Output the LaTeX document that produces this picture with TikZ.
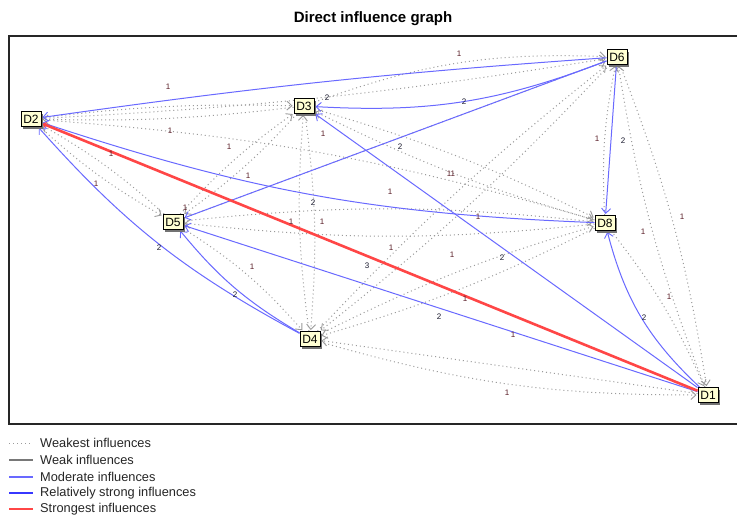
\documentclass[tikz,border=0pt]{standalone}
\usepackage{fontspec}
\setmainfont{Liberation Sans}
\usetikzlibrary{arrows.meta,shadows}
\definecolor{nodefill}{RGB}{255,255,212}
\definecolor{blueE}{RGB}{105,105,255}
\definecolor{strongB}{RGB}{55,55,255}
\definecolor{redE}{RGB}{255,70,70}
\definecolor{grayE}{RGB}{155,155,155}
\definecolor{grayW}{RGB}{120,120,120}
\definecolor{labone}{RGB}{90,30,40}
\definecolor{labtwo}{RGB}{25,25,45}
\begin{document}
\begin{tikzpicture}[x=1pt,y=-1pt,
  dn/.style={draw=black, line width=1pt, fill=nodefill, font=\fontsize{12}{12}\selectfont,
    inner sep=1pt, minimum width=20pt, minimum height=15pt,
    drop shadow={shadow xshift=2pt, shadow yshift=-2pt, fill=black!55, opacity=1}},
  weakest/.style={draw=grayE, line width=1pt, dash pattern=on 1pt off 3pt,
    -{Straight Barb[length=5pt,width=9pt,line width=0.9pt]}, shorten >=1pt},
  moder/.style={draw=blueE, line width=1pt,
    -{Straight Barb[length=5pt,width=9pt,line width=0.9pt]}, shorten >=1pt},
  strongest/.style={draw=redE, line width=2.6pt,
    -{Straight Barb[length=3pt,width=5pt,line width=1pt]}, shorten >=1pt},
  lbl/.style={font=\fontsize{8}{8}\selectfont, inner sep=0pt, text=labone},
  lbltwo/.style={font=\fontsize{8}{8}\selectfont, inner sep=0pt, text=labtwo},
  legtext/.style={font=\fontsize{12.8}{12.8}\selectfont, anchor=west, inner sep=0pt, text=black!85}
]
\useasboundingbox (0,0) rectangle (737,515);
\fill[white] (0,0) rectangle (737,515);
\node[font=\bfseries\fontsize{15}{15}\selectfont] (title) at (373,19) {Direct influence graph};
\draw[line width=1.3pt, black!85] (9,36) rectangle (738,424);

% nodes
\node[dn] (D2) at (31,119) {D2};
\node[dn] (D3) at (304,106) {D3};
\node[dn] (D6) at (617,57) {D6};
\node[dn] (D5) at (173,222) {D5};
\node[dn] (D8) at (605,223) {D8};
\node[dn] (D4) at (310,339) {D4};
\node[dn] (D1) at (708,395) {D1};

% weakest (dotted) influences
\draw[weakest] (D2) to[bend left=4] (D3);
\draw[weakest] (D3) to[bend left=4] (D2);
\draw[weakest] (D2) to[bend right=3] (D6);
\draw[weakest] (D2) to[bend left=6] (D8);
\draw[weakest] (D2) to[bend right=6] (D5);
\draw[weakest] (D5) to[bend right=6] (D2);
\draw[weakest] (D3) to[bend left=11] (D6);
\draw[weakest] (D3) to[bend left=5] (D8);
\draw[weakest] (D8) to[bend left=5] (D3);
\draw[weakest] (D3) to[bend left=6] (D5);
\draw[weakest] (D5) to[bend left=6] (D3);
\draw[weakest] (D3) to[bend left=6] (D4);
\draw[weakest] (D4) to[bend left=6] (D3);
\draw[weakest] (D5) to[bend left=6] (D8);
\draw[weakest] (D8) to[bend left=6] (D5);
\draw[weakest] (D5) -- (D6);
\draw[weakest] (D4) to[bend left=4] (D6);
\draw[weakest] (D6) to[bend left=4] (D4);
\draw[weakest] (D4) to[bend left=5] (D8);
\draw[weakest] (D8) to[bend left=5] (D4);
\draw[weakest] (D5) to[bend left=8] (D4);
\draw[weakest] (D8) to[bend left=7] (D6);
\draw[weakest] (D6) to[bend left=6] (D1);
\draw[weakest] (D1) to[bend left=6] (D6);
\draw[weakest] (D8) to[bend left=7] (D1);
\draw[weakest] (D1) -- (D4);
\draw[weakest] (D4) to[bend right=8] (D1);

% moderate influences
\draw[moder] (D6) to[bend right=2] (D2);
\draw[moder] (D6) to[bend left=12] (D3);
\draw[moder] (D6) -- (D5);
\draw[moder] (D8) to[bend left=8] (D2);
\draw[moder] (D1) -- (D3);
\draw[moder] (D1) -- (D5);
\draw[moder] (D1) to[bend left=16] (D8);
\draw[moder] (D6) -- (D8);
\draw[moder] (D4) to[bend left=10] (D5);
\draw[moder] (D4) to[bend left=10] (D2);

% strongest influence
\draw[strongest] (D1) -- (D2);

% redraw nodes on top
\node[dn] at (D2) {D2};
\node[dn] at (D3) {D3};
\node[dn] at (D6) {D6};
\node[dn] at (D5) {D5};
\node[dn] at (D8) {D8};
\node[dn] at (D4) {D4};
\node[dn] at (D1) {D1};

% edge labels
\node[lbl] (a1) at (168,87) {1};
\node[lbl] (a2) at (170,131) {1};
\node[lbl] (a3) at (229,147) {1};
\node[lbl] (a4) at (111,154) {1};
\node[lbl] (a5) at (96,184) {1};
\node[lbl] (a6) at (248,176) {1};
\node[lbl] (a7) at (185,208) {1};
\node[lbl] (a8) at (459,54) {1};
\node[lbltwo] (a9) at (327,98) {2};
\node[lbltwo] (a10) at (464,102) {2};
\node[lbl] (a11) at (323,134) {1};
\node[lbltwo] (a12) at (400,147) {2};
\node[lbl] (a13) at (451,174) {11};
\node[lbl] (a14) at (390,192) {1};
\node[lbltwo] (a15) at (313,203) {2};
\node[lbl] (a16) at (291,222) {1};
\node[lbl] (a17) at (322,222) {1};
\node[lbl] (a18) at (391,248) {1};
\node[lbltwo] (a19) at (367,266) {3};
\node[lbl] (a20) at (452,255) {1};
\node[lbl] (a21) at (465,299) {1};
\node[lbltwo] (a22) at (439,317) {2};
\node[lbl] (a23) at (252,267) {1};
\node[lbl] (a24) at (478,217) {1};
\node[lbl] (a25) at (597,139) {1};
\node[lbltwo] (a26) at (623,141) {2};
\node[lbltwo] (a27) at (159,248) {2};
\node[lbltwo] (a28) at (235,295) {2};
\node[lbl] (a29) at (682,217) {1};
\node[lbl] (a30) at (643,232) {1};
\node[lbltwo] (a31) at (502,258) {2};
\node[lbl] (a32) at (669,297) {1};
\node[lbltwo] (a33) at (644,318) {2};
\node[lbl] (a34) at (513,335) {1};
\node[lbl] (a35) at (507,393) {1};

% legend
\coordinate (g1a) at (9,443);  \coordinate (g1b) at (33,443);
\coordinate (g2a) at (9,460);  \coordinate (g2b) at (33,460);
\coordinate (g3a) at (9,477);  \coordinate (g3b) at (33,477);
\coordinate (g4a) at (9,493);  \coordinate (g4b) at (33,493);
\coordinate (g5a) at (9,509);  \coordinate (g5b) at (33,509);
\draw[grayE, line width=1pt, dash pattern=on 1pt off 3pt] (g1a) -- (g1b);
\draw[grayW, line width=1.2pt] (g2a) -- (g2b);
\draw[blueE, line width=1.3pt] (g3a) -- (g3b);
\draw[strongB, line width=2.2pt] (g4a) -- (g4b);
\draw[redE, line width=2.2pt] (g5a) -- (g5b);
\node[legtext] (t1) at (40,443) {Weakest influences};
\node[legtext] (t2) at (40,460) {Weak influences};
\node[legtext] (t3) at (40,477) {Moderate influences};
\node[legtext] (t4) at (40,493) {Relatively strong influences};
\node[legtext] (t5) at (40,509) {Strongest influences};
\end{tikzpicture}
\end{document}
